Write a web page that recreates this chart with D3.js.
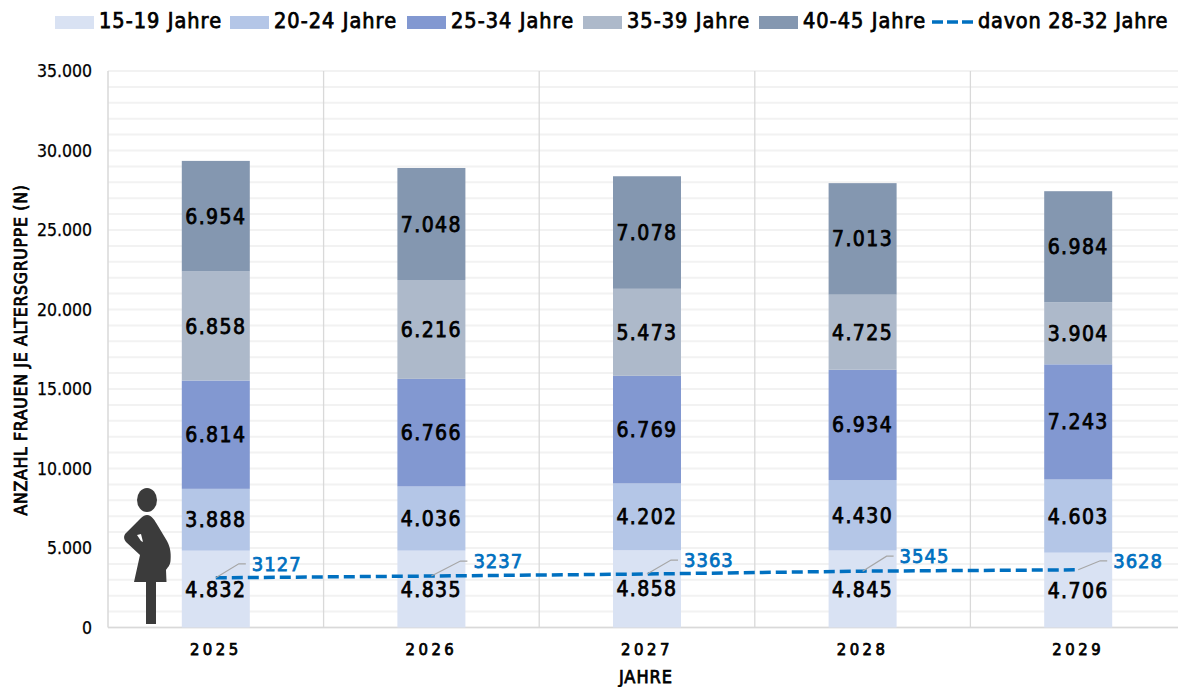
<!DOCTYPE html>
<html><head><meta charset="utf-8">
<script src="https://cdn.jsdelivr.net/npm/d3@7"></script>
<style>
html,body{margin:0;padding:0;background:#fff;overflow:hidden}
svg{display:block}
text{font-family:"DejaVu Sans Condensed","DejaVu Sans",sans-serif;fill:#000}
.semi{stroke:#000;stroke-width:.75px}
</style></head><body><div id="c"></div>
<script>
const years=["2025","2026","2027","2028","2029"];
const seriesNames=["15-19 Jahre","20-24 Jahre","25-34 Jahre","35-39 Jahre","40-45 Jahre"];
const v1519=[4832,4835,4858,4845,4706];
const v2024=[3888,4036,4202,4430,4603];
const v2534=[6814,6766,6769,6934,7243];
const v3539=[6858,6216,5473,4725,3904];
const v4045=[6954,7048,7078,7013,6984];
const v2832=[3127,3237,3363,3545,3628];
const lineName="davon 28-32 Jahre";
const colors=["#d9e2f3","#b4c6e7","#8298d1","#adb9ca","#8497b0"];
const lineColor="#0070c0";
const yTicks=[0,5000,10000,15000,20000,25000,30000,35000];
const minorTicks=d3.range(0,35001,1000);

const W=1178,H=687;
const svg=d3.select("#c").append("svg").attr("width",W).attr("height",H);
const x=d3.scaleBand().domain(years).range([108,1186]);
const y=d3.scaleLinear().domain([0,35000]).range([627.5,71]);
const fmt=d=>d3.format(",")(d).replace(/,/g,".");
const barW=68;

svg.append("g").selectAll("line").data(minorTicks).join("line")
 .attr("x1",108).attr("x2",1186).attr("y1",d=>y(d)).attr("y2",d=>y(d))
 .attr("stroke","#f2f2f2").attr("stroke-width",2);
svg.append("g").selectAll("line").data(years.slice(1)).join("line")
 .attr("x1",d=>x(d)).attr("x2",d=>x(d)).attr("y1",y(35000)).attr("y2",y(0))
 .attr("stroke","#d9d9d9").attr("stroke-width",1.3);
svg.append("line").attr("x1",108).attr("x2",108).attr("y1",y(35000)).attr("y2",y(0)).attr("stroke","#d9d9d9").attr("stroke-width",1.5);
svg.append("line").attr("x1",108).attr("x2",1186).attr("y1",y(0)).attr("y2",y(0)).attr("stroke","#d9d9d9").attr("stroke-width",1.5);

const yAxis=d3.axisLeft(y).tickValues(yTicks).tickFormat(fmt).tickSize(0).tickPadding(16);
const gy=svg.append("g").attr("transform","translate(108,0)").call(yAxis);
gy.select(".domain").remove();
gy.selectAll("text").attr("font-size",17.5).style("font-family",'"DejaVu Sans Condensed"').style("stroke","#000").style("stroke-width",".25px");
const xAxis=d3.axisBottom(x).tickSize(0).tickPadding(16);
const gx=svg.append("g").attr("transform",`translate(0,${y(0)})`).call(xAxis);
gx.select(".domain").remove();
gx.selectAll("text").attr("class","semi").attr("font-size",16.5).attr("letter-spacing","3.5px")
 .style("font-family",'"DejaVu Sans Condensed"');

const rows=years.map((yr,i)=>({yr,s0:v1519[i],s1:v2024[i],s2:v2534[i],s3:v3539[i],s4:v4045[i]}));
const stack=d3.stack().keys(["s0","s1","s2","s3","s4"])(rows);
const gs=svg.append("g").selectAll("g").data(stack).join("g").attr("fill",(d,i)=>colors[i]);
gs.selectAll("rect").data(d=>d).join("rect")
 .attr("x",d=>x(d.data.yr)+x.bandwidth()/2-barW/2).attr("width",barW)
 .attr("y",d=>y(d[1])).attr("height",d=>y(d[0])-y(d[1]));
const gl=svg.append("g").selectAll("g").data(stack).join("g");
gl.selectAll("text").data(d=>d).join("text").attr("class","semi")
 .attr("x",d=>x(d.data.yr)+x.bandwidth()/2).attr("y",d=>y((d[0]+d[1])/2))
 .attr("dy","0.36em").attr("text-anchor","middle").attr("font-size",21).attr("letter-spacing","1.4px")
 .text(d=>fmt(d[1]-d[0]));

const cx=d=>x(d)+x.bandwidth()/2;
const line=d3.line().x((d,i)=>cx(years[i])).y(d=>y(d));
svg.append("path").datum(v2832).attr("d",line).attr("fill","none").attr("stroke",lineColor)
 .attr("stroke-width",3.5).attr("stroke-dasharray","11 5");

// data-label placement, relative to each line point
const labelDx=[36,42,37,37,35];
const labelDy=[-14,-15,-14,-15,-9];
const lbl=svg.append("g");
v2832.forEach((v,i)=>{
 const px=cx(years[i]),py=y(v),ex=px+labelDx[i]-6,ey=py+labelDy[i];
 lbl.append("polyline").attr("points",`${px},${py} ${ex-7},${ey} ${ex},${ey}`)
  .attr("fill","none").attr("stroke","#a6a6a6").attr("stroke-width",1.2);
 lbl.append("text").attr("x",px+labelDx[i]).attr("y",ey).attr("dy","0.36em")
  .attr("font-size",20).attr("letter-spacing","1px").style("fill",lineColor).style("stroke",lineColor).style("stroke-width",".75px").text(v);
});

svg.append("text").attr("class","semi").attr("transform","translate(21,350) rotate(-90)").attr("text-anchor","middle")
 .attr("dy","0.36em").attr("font-size",17.5).attr("letter-spacing","0.7px").text("ANZAHL FRAUEN JE ALTERSGRUPPE (N)");
svg.append("text").attr("class","semi").attr("x",646).attr("y",677).attr("dy","0.36em").attr("text-anchor","middle")
 .attr("font-size",18).attr("letter-spacing","1px").text("JAHRE");

const legX=[55,230,407,583,759];
const leg=svg.append("g");
seriesNames.forEach((n,i)=>{
 leg.append("rect").attr("x",legX[i]).attr("y",16).attr("width",39).attr("height",13).attr("fill",colors[i]);
 leg.append("text").attr("class","semi").attr("x",legX[i]+44).attr("y",20).attr("dy","0.36em").attr("font-size",21.5).attr("letter-spacing","1.05px").text(n);
});
leg.append("line").attr("x1",932).attr("x2",973).attr("y1",22).attr("y2",22).attr("stroke",lineColor).attr("stroke-width",3.5).attr("stroke-dasharray","11 4");
leg.append("text").attr("class","semi").attr("x",978).attr("y",20).attr("dy","0.36em").attr("font-size",21.5).attr("letter-spacing","0.75px").text(lineName);

const ic=svg.append("g").attr("fill","#3b3b3b");
ic.append("ellipse").attr("cx",147).attr("cy",500).attr("rx",10).attr("ry",12);
ic.append("path").attr("d","M147,515 C152,515 155,521 158,526 L167,541 C171,548 171,556 170.5,561 C170,566 167,568 166,570 L166.5,582 L134,582 L140,555 L126,542 C123,538 124,535 126,533 L141,518 C143,516 145,515 147,515 Z M137,535 L141,541 L143,542 L141,534 Z");
ic.append("rect").attr("x",146).attr("y",581).attr("width",10).attr("height",43);
</script></body></html>
